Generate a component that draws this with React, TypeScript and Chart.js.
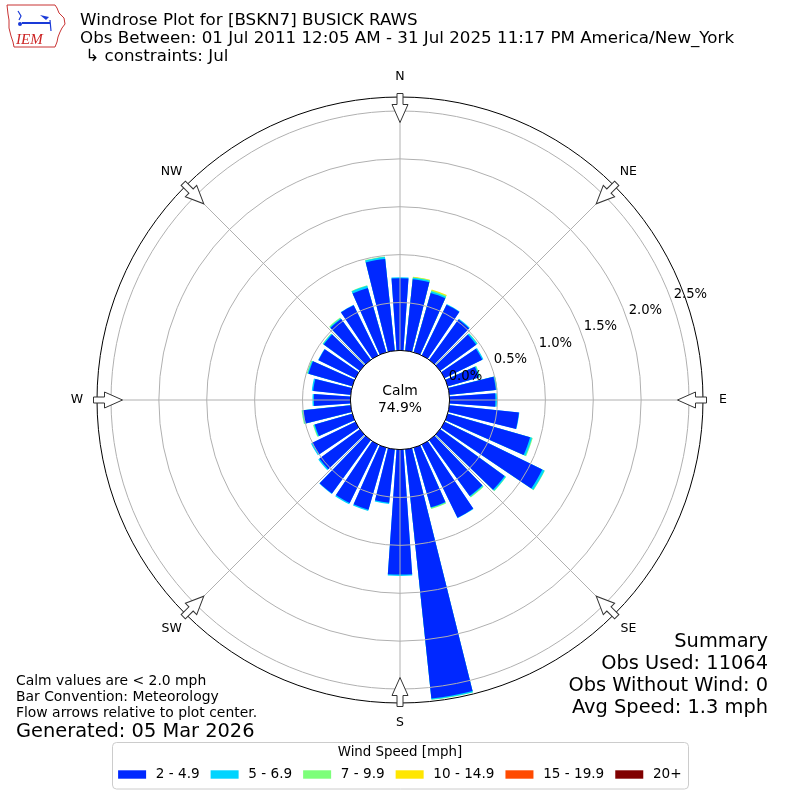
import React, { useEffect, useRef } from 'react';
import { Chart, registerables } from 'chart.js';

Chart.register(...registerables);

// ---------------- data ----------------
const DIRECTIONS = [0, 10, 20, 30, 40, 50, 60, 70, 80, 90, 100, 110, 120, 130, 140, 150, 160, 170, 180, 190, 200, 210, 220, 230, 240, 250, 260, 270, 280, 290, 300, 310, 320, 330, 340, 350];
const SPEED_BINS = ['2 - 4.9', '5 - 6.9', '7 - 9.9', '10 - 14.9', '15 - 19.9', '20+'];
const BIN_COLORS = ['#0028ff', '#00d4ff', '#7dff7a', '#ffe600', '#ff4a00', '#800000'];

// percent of observations per direction bin
const FREQ_2_5 = [0.753, 0.750, 0.645, 0.590, 0.520, 0.465, 0.438, 0.338, 0.488, 0.478, 0.730, 0.895, 1.135, 0.832, 0.720, 0.850, 0.648, 2.615, 1.305, 0.561, 0.674, 0.679, 0.690, 0.522, 0.501, 0.408, 0.497, 0.381, 0.393, 0.476, 0.429, 0.466, 0.527, 0.584, 0.700, 0.963];
const FREQ_5_7 = [0.010, 0.015, 0.018, 0.006, 0.011, 0.017, 0.013, 0.010, 0.014, 0.017, 0.005, 0.020, 0.025, 0.015, 0.010, 0.005, 0.006, 0.012, 0.015, 0.012, 0.015, 0.014, 0.005, 0.015, 0.015, 0.010, 0.010, 0.015, 0.015, 0.010, 0.005, 0.011, 0.010, 0.005, 0.023, 0.020];
const FREQ_7_10 = [0, 0.007, 0.010, 0, 0, 0.003, 0, 0.007, 0.003, 0, 0, 0.009, 0.005, 0.005, 0.010, 0, 0.012, 0.003, 0, 0, 0, 0, 0, 0, 0, 0.009, 0.008, 0, 0, 0.009, 0, 0.005, 0.010, 0, 0.005, 0.005];
const FREQ_10_15 = [0, 0.003, 0.010, 0, 0, 0, 0, 0, 0, 0, 0, 0, 0, 0, 0, 0, 0, 0, 0, 0, 0, 0, 0, 0, 0, 0, 0, 0, 0, 0, 0, 0, 0, 0, 0, 0];
const FREQ_15_20 = [0, 0, 0, 0, 0, 0, 0, 0, 0, 0, 0, 0, 0, 0, 0, 0, 0, 0, 0, 0, 0, 0, 0, 0, 0, 0, 0, 0, 0, 0, 0, 0, 0, 0, 0, 0];
const FREQ_20P = [0, 0, 0, 0, 0, 0, 0, 0, 0, 0, 0, 0, 0, 0, 0, 0, 0, 0, 0, 0, 0, 0, 0, 0, 0, 0, 0, 0, 0, 0, 0, 0, 0, 0, 0, 0];

const R_TICKS = [0, 0.5, 1.0, 1.5, 2.0, 2.5];
const R_MIN = -0.518;
const R_MAX = 2.646;

const COMPASS_LABELS = ['N', 'NE', 'E', 'SE', 'S', 'SW', 'W', 'NW'];
const COMPASS_ANGLES = [0, 45, 90, 135, 180, 225, 270, 315];

const CALM_LABEL = 'Calm';
const CALM_VALUE = '74.9%';
const TITLE_LINES = [
  'Windrose Plot for [BSKN7] BUSICK RAWS',
  'Obs Between: 01 Jul 2011 12:05 AM - 31 Jul 2025 11:17 PM America/New_York',
  ' \u21b3 constraints: Jul',
];
const SUMMARY_LINES = ['Summary', 'Obs Used: 11064', 'Obs Without Wind: 0', 'Avg Speed: 1.3 mph'];
const NOTE_LINES = ['Calm values are < 2.0 mph', 'Bar Convention: Meteorology', 'Flow arrows relative to plot center.'];
const GENERATED = 'Generated: 05 Mar 2026';
const LEGEND_TITLE = 'Wind Speed [mph]';

// ---------------- styling ----------------
const FONT = '"DejaVu Sans", "Noto Sans", sans-serif';
const BAR_DEG = 8;
const GAP_DEG = 2;
const GRID_COLOR = '#b0b0b0';

const BINS = [FREQ_2_5, FREQ_5_7, FREQ_7_10, FREQ_10_15, FREQ_15_20, FREQ_20P];

function toRad(d: number) {
  return (d * Math.PI) / 180;
}

const decorPlugin = {
  id: 'windroseDecor',
  afterDraw(chart: any) {
    const ctx: CanvasRenderingContext2D = chart.ctx;
    const scale = chart.scales.r;
    const cx = scale.xCenter;
    const cy = scale.yCenter;
    const rAt = (v: number) => scale.getDistanceFromCenterForValue(v);
    const r0 = rAt(0);
    const rOut = rAt(R_MAX);

    ctx.save();
    // spokes
    ctx.strokeStyle = GRID_COLOR;
    ctx.lineWidth = 1;
    COMPASS_ANGLES.forEach((a) => {
      const s = Math.sin(toRad(a));
      const c = -Math.cos(toRad(a));
      ctx.beginPath();
      ctx.moveTo(cx + s * r0, cy + c * r0);
      ctx.lineTo(cx + s * rOut, cy + c * rOut);
      ctx.stroke();
    });

    // calm circle
    ctx.beginPath();
    ctx.arc(cx, cy, r0, 0, Math.PI * 2);
    ctx.fillStyle = '#ffffff';
    ctx.fill();
    ctx.strokeStyle = '#000000';
    ctx.lineWidth = 1;
    ctx.stroke();

    // outer circle
    ctx.beginPath();
    ctx.arc(cx, cy, rOut, 0, Math.PI * 2);
    ctx.strokeStyle = '#000000';
    ctx.lineWidth = 1;
    ctx.stroke();

    // flow arrows
    COMPASS_ANGLES.forEach((a) => {
      ctx.save();
      ctx.translate(cx, cy);
      ctx.rotate(toRad(a));
      const tail = -(rOut + 3.5);
      const base = -(rOut - 7.5);
      const tip = -(rOut - 25.5);
      ctx.beginPath();
      ctx.moveTo(-3, tail);
      ctx.lineTo(3, tail);
      ctx.lineTo(3, base);
      ctx.lineTo(8, base);
      ctx.lineTo(0, tip);
      ctx.lineTo(-8, base);
      ctx.lineTo(-3, base);
      ctx.closePath();
      ctx.fillStyle = '#ffffff';
      ctx.fill();
      ctx.strokeStyle = '#333333';
      ctx.lineWidth = 1;
      ctx.stroke();
      ctx.restore();
    });

    // radial tick labels
    ctx.fillStyle = '#000000';
    ctx.font = `13.2px ${FONT}`;
    ctx.textAlign = 'center';
    ctx.textBaseline = 'middle';
    const la = toRad(70);
    R_TICKS.forEach((v) => {
      const d = rAt(v) + 20;
      ctx.fillText(v.toFixed(1) + '%', cx + Math.sin(la) * d, cy - Math.cos(la) * d);
    });

    // compass labels
    ctx.font = `12.5px ${FONT}`;
    COMPASS_LABELS.forEach((lab, i) => {
      const a = toRad(COMPASS_ANGLES[i]);
      const d = rOut + 20;
      ctx.fillText(lab, cx + Math.sin(a) * d, cy - Math.cos(a) * d);
    });

    // calm text
    ctx.font = `13.9px ${FONT}`;
    ctx.fillText(CALM_LABEL, cx, cy - 9);
    ctx.fillText(CALM_VALUE, cx, cy + 8);

    // title
    ctx.textAlign = 'left';
    ctx.textBaseline = 'alphabetic';
    ctx.font = `16.7px ${FONT}`;
    TITLE_LINES.forEach((t, i) => ctx.fillText(t, 80, 25 + i * 18));

    // summary
    ctx.textAlign = 'right';
    ctx.font = `19.4px ${FONT}`;
    SUMMARY_LINES.forEach((t, i) => ctx.fillText(t, 768, 647 + i * 22));

    // notes
    ctx.textAlign = 'left';
    ctx.font = `13.9px ${FONT}`;
    NOTE_LINES.forEach((t, i) => ctx.fillText(t, 16, 685 + i * 16));
    ctx.font = `19.4px ${FONT}`;
    ctx.fillText(GENERATED, 16, 737);

    // legend
    ctx.beginPath();
    (ctx as any).roundRect(112.5, 742.5, 576, 46.5, 4);
    ctx.fillStyle = 'rgba(255,255,255,0.8)';
    ctx.fill();
    ctx.strokeStyle = '#cccccc';
    ctx.lineWidth = 1;
    ctx.stroke();
    ctx.fillStyle = '#000000';
    ctx.font = `13.4px ${FONT}`;
    ctx.textAlign = 'center';
    ctx.textBaseline = 'middle';
    ctx.fillText(LEGEND_TITLE, 400, 753);
    ctx.textAlign = 'left';
    ctx.font = `13.6px ${FONT}`;
    let x = 118.1;
    chart.data.datasets.forEach((ds: any, i: number) => {
      ctx.fillStyle = BIN_COLORS[i];
      ctx.fillRect(x, 770.3, 28, 8.4);
      ctx.fillStyle = '#000000';
      ctx.fillText(ds.label, x + 37.7, 774.8);
      x += 37.7 + ctx.measureText(ds.label).width + 11;
    });

    // logo
    ctx.save();
    ctx.strokeStyle = '#c83232';
    ctx.lineWidth = 1;
    ctx.beginPath();
    const outline = [[7, 5], [55, 5], [57, 8], [59, 13], [64, 18], [65, 24], [62, 28], [60, 32], [58, 37], [57, 42], [55, 47], [14, 47], [13, 42], [11, 36], [9, 28], [9, 20], [8, 14]];
    outline.forEach(([px, py], i) => (i === 0 ? ctx.moveTo(px, py) : ctx.lineTo(px, py)));
    ctx.closePath();
    ctx.stroke();
    ctx.strokeStyle = '#1a3ad8';
    ctx.fillStyle = '#1a3ad8';
    ctx.lineWidth = 2;
    ctx.beginPath();
    ctx.moveTo(22, 23);
    ctx.lineTo(50, 23);
    ctx.stroke();
    ctx.lineWidth = 1.2;
    ctx.beginPath();
    ctx.moveTo(18, 11);
    ctx.lineTo(21, 16);
    ctx.lineTo(19, 20);
    ctx.stroke();
    ctx.beginPath();
    ctx.arc(20, 24, 2, 0, Math.PI * 2);
    ctx.fill();
    ctx.beginPath();
    ctx.moveTo(40, 15);
    ctx.lineTo(49, 17);
    ctx.lineTo(46, 20);
    ctx.closePath();
    ctx.fill();
    ctx.beginPath();
    ctx.moveTo(50, 20);
    ctx.lineTo(51, 31);
    ctx.stroke();
    ctx.fillStyle = '#cc2222';
    ctx.font = 'italic 15px "Liberation Serif", "DejaVu Serif", serif';
    ctx.textAlign = 'left';
    ctx.textBaseline = 'alphabetic';
    ctx.fillText('IEM', 16, 44);
    ctx.restore();

    ctx.restore();
  },
};

export default function App() {
  const canvasRef = useRef<HTMLCanvasElement | null>(null);

  useEffect(() => {
    if (!canvasRef.current) return;
    const labels: string[] = [];
    DIRECTIONS.forEach((d) => labels.push(String(d), ''));

    const datasets = BINS.map((bin, b) => {
      const data: number[] = [];
      DIRECTIONS.forEach((_, d) => {
        let cum = 0;
        for (let k = 0; k <= b; k++) cum += BINS[k][d];
        data.push(cum, 0);
      });
      return {
        label: SPEED_BINS[b],
        data,
        borderWidth: 0,
        backgroundColor: (c: any) =>
          c.dataIndex % 2 === 0 && bin[c.dataIndex / 2] > 0 ? BIN_COLORS[b] : 'rgba(0,0,0,0)',
        angle: (c: any) => (c.dataIndex % 2 === 0 ? BAR_DEG : GAP_DEG),
      };
    });

    const chart = new Chart(canvasRef.current, {
      type: 'polarArea',
      data: { labels, datasets: datasets as any },
      options: {
        responsive: false,
        animation: false,
        events: [],
        layout: { padding: { left: 97, right: 97, top: 97, bottom: 97 } },
        plugins: {
          legend: { display: false },
          tooltip: { enabled: false },
          title: { display: false },
        },
        scales: {
          r: {
            type: 'radialLinear',
            min: R_MIN,
            max: R_MAX,
            startAngle: -BAR_DEG / 2,
            ticks: { display: false, stepSize: 0.5 },
            grid: {
              circular: true,
              z: 1,
              lineWidth: 1,
              color: (c: any) => {
                const v = c.tick ? c.tick.value : -1;
                return v > 0.25 && v < R_MAX - 0.05 ? GRID_COLOR : 'rgba(0,0,0,0)';
              },
            },
            angleLines: { display: false },
            pointLabels: { display: false },
          },
        } as any,
      },
      plugins: [decorPlugin],
    });
    return () => chart.destroy();
  }, []);

  return (
    <div style={{ position: 'absolute', left: 0, top: 0, width: 800, height: 800, background: '#fff' }}>
      <canvas ref={canvasRef} width={800} height={800} style={{ display: 'block' }} />
    </div>
  );
}
